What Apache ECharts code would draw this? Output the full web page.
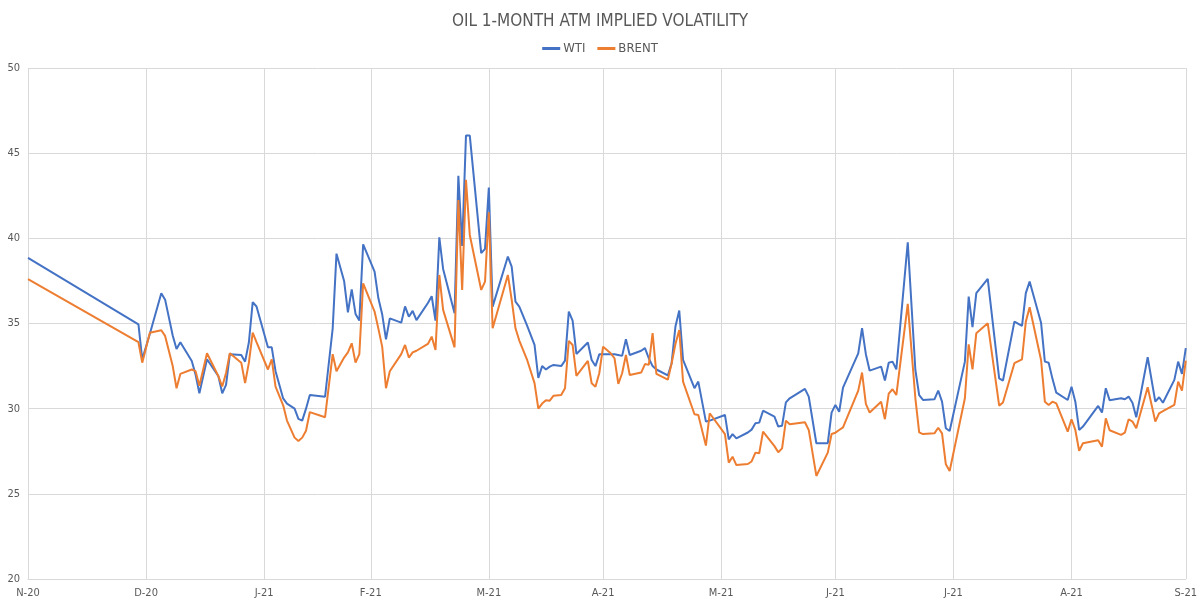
<!DOCTYPE html>
<html>
<head>
<meta charset="utf-8">
<script src="https://cdn.jsdelivr.net/npm/echarts@6/dist/echarts.min.js"></script>
<style>html,body{margin:0;padding:0;background:#fff}#c{width:1200px;height:606px}</style>
</head>
<body>
<div id="c"></div>
<script>
const dates = ['2020-11-30','2020-12-29','2020-12-30','2021-01-01','2021-01-04','2021-01-05','2021-01-07','2021-01-08','2021-01-09','2021-01-12','2021-01-13','2021-01-14','2021-01-16','2021-01-19','2021-01-20','2021-01-21','2021-01-22','2021-01-25','2021-01-26','2021-01-27','2021-01-28','2021-01-29',
'2021-02-01','2021-02-02','2021-02-03','2021-02-05','2021-02-06','2021-02-08','2021-02-09','2021-02-10','2021-02-11','2021-02-12','2021-02-16','2021-02-18','2021-02-19','2021-02-21','2021-02-22','2021-02-23','2021-02-24','2021-02-25','2021-02-26',
'2021-03-01','2021-03-02','2021-03-03','2021-03-04','2021-03-05','2021-03-08','2021-03-09','2021-03-10','2021-03-11','2021-03-12','2021-03-15','2021-03-16','2021-03-17','2021-03-18','2021-03-19','2021-03-22','2021-03-23','2021-03-24','2021-03-25','2021-03-26','2021-03-29','2021-03-30','2021-03-31',
'2021-04-01','2021-04-05','2021-04-06','2021-04-07','2021-04-08','2021-04-10','2021-04-12','2021-04-13','2021-04-14','2021-04-15','2021-04-16','2021-04-17','2021-04-19','2021-04-20','2021-04-21','2021-04-22','2021-04-23','2021-04-26','2021-04-27','2021-04-28','2021-04-29','2021-04-30',
'2021-05-02','2021-05-03','2021-05-04','2021-05-05','2021-05-06','2021-05-07','2021-05-10','2021-05-11','2021-05-12','2021-05-13','2021-05-14','2021-05-17','2021-05-18','2021-05-19','2021-05-20','2021-05-21','2021-05-24','2021-05-25','2021-05-27','2021-05-28',
'2021-06-01','2021-06-02','2021-06-03','2021-06-04','2021-06-07','2021-06-08','2021-06-09','2021-06-10','2021-06-11','2021-06-14','2021-06-15','2021-06-16','2021-06-17','2021-06-18','2021-06-22','2021-06-23','2021-06-25','2021-06-28','2021-06-29','2021-06-30',
'2021-07-01','2021-07-02','2021-07-06','2021-07-07','2021-07-08','2021-07-09','2021-07-12','2021-07-13','2021-07-14','2021-07-15','2021-07-16','2021-07-19','2021-07-21','2021-07-22','2021-07-23','2021-07-26','2021-07-27','2021-07-28','2021-07-29','2021-07-30',
'2021-08-03','2021-08-04','2021-08-05','2021-08-06','2021-08-09','2021-08-12','2021-08-13','2021-08-16','2021-08-18','2021-08-19','2021-08-20','2021-08-23','2021-08-24','2021-08-25','2021-08-26','2021-08-27','2021-08-30','2021-08-31',
'2021-09-01','2021-09-02','2021-09-03','2021-09-07','2021-09-08','2021-09-09','2021-09-10','2021-09-13','2021-09-14','2021-09-15','2021-09-16','2021-09-17','2021-09-20','2021-09-22','2021-09-23','2021-09-24','2021-09-27','2021-09-28','2021-09-29','2021-09-30'];

const wti = [38.85,34.95,32.9,34.4,36.78,36.4,34.3,33.5,33.9,32.8,32.0,30.9,32.9,31.9,30.9,31.4,33.2,33.15,32.76,33.9,36.25,36.0,
33.6,33.6,32.2,30.6,30.3,30.0,29.4,29.3,30.0,30.8,30.7,34.7,39.1,37.5,35.66,37.0,35.56,35.17,39.65,
38.04,36.48,35.54,34.07,35.3,35.05,36.0,35.4,35.74,35.2,36.2,36.6,35.17,40.06,38.2,35.6,43.67,39.55,46.03,46.03,39.13,39.38,42.98,
35.99,38.93,38.34,36.28,35.99,34.9,33.74,31.8,32.5,32.3,32.47,32.57,32.5,32.82,35.7,35.17,33.21,33.88,32.86,32.5,33.19,33.19,
33.19,33.19,33.15,33.1,34.07,33.15,33.4,33.55,32.96,32.5,32.3,31.95,32.67,34.82,35.76,32.86,31.2,31.59,29.24,29.3,
29.63,28.2,28.51,28.26,28.6,28.77,29.14,29.18,29.88,29.53,28.95,29.0,30.37,30.61,31.16,30.71,27.97,27.97,29.77,30.22,
29.82,31.23,33.25,34.72,33.2,32.23,32.47,31.65,32.7,32.76,32.31,39.77,32.27,30.8,30.51,30.55,31.06,30.41,28.85,28.69,
32.76,36.58,34.78,36.78,37.62,31.78,31.65,35.11,34.86,36.78,37.46,35.05,32.76,32.7,31.75,30.94,30.51,31.29,
30.41,28.75,28.95,30.16,29.77,31.2,30.5,30.61,30.55,30.71,30.35,29.49,33.02,30.41,30.67,30.35,31.69,32.76,32.04,33.55];

const brent = [37.6,33.9,32.7,34.46,34.6,34.27,32.5,31.2,32.04,32.3,32.2,31.35,33.25,31.9,31.3,32.1,33.25,32.7,31.5,32.7,34.46,33.9,
32.3,32.9,31.3,30.2,29.3,28.3,28.1,28.3,28.7,29.8,29.5,33.2,32.2,33.0,33.3,33.84,32.7,33.2,37.36,
35.7,34.7,33.64,31.2,32.2,33.2,33.74,33.0,33.3,33.4,33.8,34.23,33.45,37.85,35.8,33.6,42.25,36.97,43.43,40.2,36.97,37.46,41.53,
34.72,37.85,36.4,34.72,34.0,32.9,31.5,30.0,30.3,30.5,30.47,30.76,30.8,31.2,33.98,33.74,31.92,32.8,31.49,31.29,32.08,33.64,
33.25,32.96,31.45,32.08,33.15,31.98,32.12,32.62,32.57,34.43,32.04,31.7,32.67,33.8,34.62,31.59,29.67,29.63,27.83,29.73,
28.51,26.83,27.18,26.69,26.75,26.9,27.42,27.38,28.65,27.8,27.44,27.67,29.3,29.08,29.2,28.75,26.05,27.42,28.51,28.59,
28.75,28.9,31.06,32.12,30.28,29.77,30.41,29.38,30.88,31.14,30.8,36.15,30.61,28.61,28.51,28.55,28.88,28.55,26.73,26.34,
30.61,33.78,32.31,34.43,35.01,30.18,30.36,32.67,32.9,35.11,35.95,32.86,30.41,30.22,30.41,30.31,28.65,29.38,
28.75,27.53,27.97,28.14,27.77,29.43,28.73,28.46,28.59,29.38,29.24,28.85,31.26,29.24,29.73,29.85,30.22,31.59,31.06,32.82];

const tickDates = ['2020-11-30','2020-12-31','2021-01-31','2021-02-28','2021-03-31','2021-04-30','2021-05-31','2021-06-30','2021-07-31','2021-08-31','2021-09-30'];
const monthLetters = ['J','F','M','A','M','J','J','A','S','O','N','D'];

function ts(s){const p=s.split('-');return Date.UTC(+p[0],+p[1]-1,+p[2]);}
const tickVals = tickDates.map(ts);
const wtiData = dates.map((d,i)=>[ts(d),wti[i]]);
const brentData = dates.map((d,i)=>[ts(d),brent[i]]);

const FONT = 'DejaVu Sans Condensed';
const chart = echarts.init(document.getElementById('c'));
chart.setOption({
  animation:false,
  backgroundColor:'#fff',
  title:{text:'OIL 1-MONTH ATM IMPLIED VOLATILITY',left:'center',top:8,textStyle:{fontFamily:FONT,fontSize:17,fontWeight:'normal',color:'#595959'}},
  legend:{top:37,left:'center',itemWidth:18,itemHeight:3,itemGap:12,icon:'rect',textStyle:{fontFamily:FONT,fontSize:13,color:'#595959',padding:[0,0,0,-2]},data:['WTI','BRENT']},
  grid:{left:28,right:13,top:68,bottom:27,containLabel:false},
  xAxis:{type:'value',min:tickVals[0],max:tickVals[tickVals.length-1],
    axisLine:{show:true,lineStyle:{color:'#d9d9d9'}},
    axisTick:{show:false,customValues:tickVals},
    splitLine:{show:true,lineStyle:{color:'#d9d9d9'}},
    axisLabel:{customValues:tickVals,fontFamily:FONT,fontSize:11,color:'#595959',margin:9,
      formatter:function(v){const d=new Date(v);return monthLetters[d.getUTCMonth()]+'-'+String(d.getUTCFullYear()).slice(2);}}},
  yAxis:{type:'value',min:20,max:50,interval:5,
    axisLine:{show:false},axisTick:{show:false},
    splitLine:{show:true,lineStyle:{color:'#d9d9d9'}},
    axisLabel:{fontFamily:FONT,fontSize:11,color:'#595959',margin:8}},
  series:[
    {name:'WTI',type:'line',data:wtiData,showSymbol:false,symbol:'none',lineStyle:{width:2,color:'#4472C4'},itemStyle:{color:'#4472C4'}},
    {name:'BRENT',type:'line',data:brentData,showSymbol:false,symbol:'none',lineStyle:{width:2,color:'#ED7D31'},itemStyle:{color:'#ED7D31'}}
  ]
});
</script>
</body>
</html>
